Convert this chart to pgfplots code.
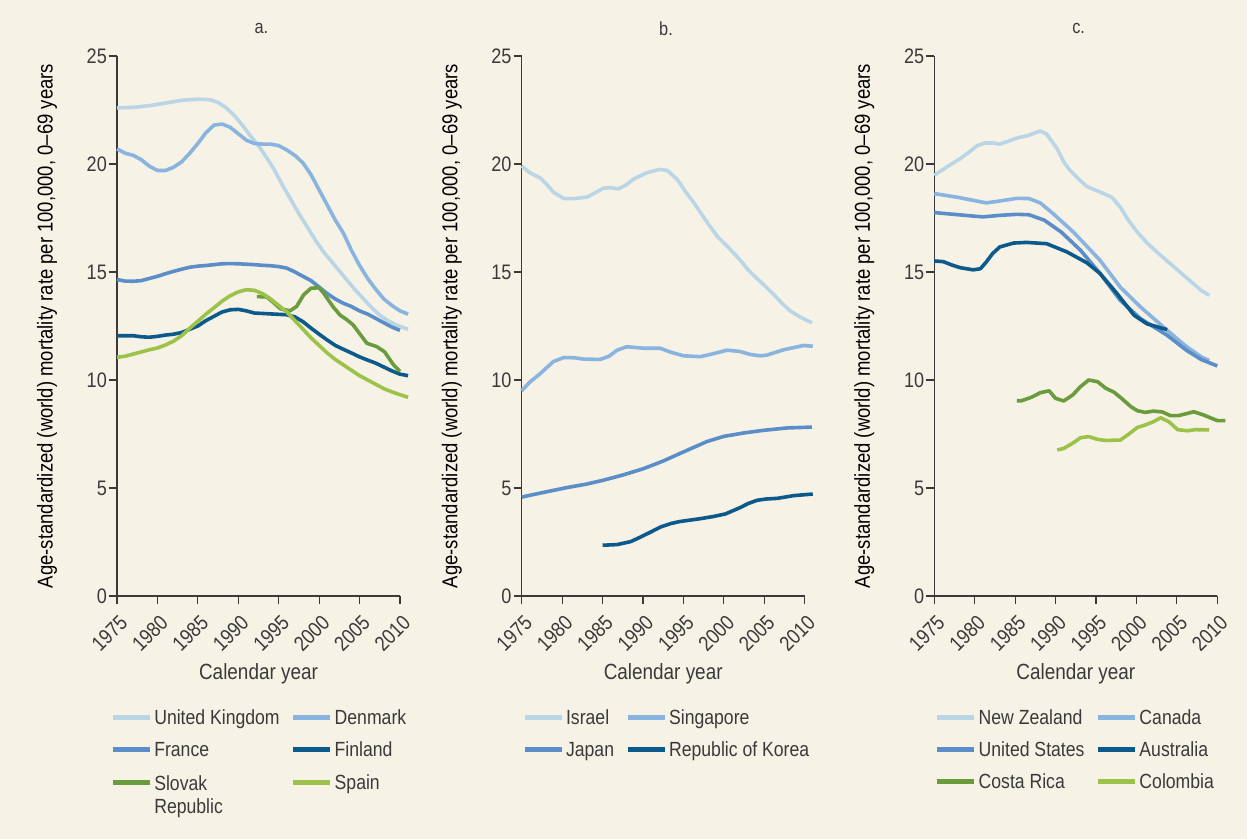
\documentclass[border=0pt]{standalone}
\usepackage{fontspec}
\setmainfont{Liberation Sans}[FakeStretch=0.86]
\usepackage{pgfplots}
\pgfplotsset{compat=1.18}
\definecolor{bgc}{HTML}{F6F2E5}
\definecolor{axg}{HTML}{3A3A3A}
\definecolor{cA}{HTML}{BAD6E6}
\definecolor{cB}{HTML}{8AB4E0}
\definecolor{cC}{HTML}{5B8DC9}
\definecolor{cD}{HTML}{0C5A8C}
\definecolor{cE}{HTML}{6A9B3D}
\definecolor{cF}{HTML}{9DC24A}
\pgfplotsset{
  panel/.style={
    width=283bp, height=540bp, scale only axis, anchor=south west,
    xmin=1975, xmax=2010, ymin=0, ymax=25,
    xtick={1975,1980,...,2010}, ytick={0,5,...,25},
    axis x line*=bottom, axis y line*=left,
    axis line style={-, draw=axg, line width=1.1pt},
    tick align=outside, major tick length=8bp,
    tick style={axg, line width=1.1pt},
    clip=false,
    /pgf/number format/assume math mode=true,
    /pgf/number format/1000 sep={},
    tick label style={font=\fontsize{21bp}{23bp}\selectfont, text=axg},
    xticklabel style={rotate=45, anchor=north east, inner sep=1bp, xshift=-5bp, yshift=-7bp},
    yticklabel style={inner sep=2bp},
    xlabel={Calendar year},
    xlabel style={at={(axis description cs:0.5,-0.145)}, anchor=center, font=\fontsize{22bp}{24bp}\selectfont, text=axg},
    ylabel={Age-standardized (world) mortality rate per 100,000, 0--69 years},
    ylabel style={at={(axis description cs:-0.247,0.5)}, anchor=center, font=\fontsize{21.5bp}{24bp}\selectfont, text=black},
    title style={at={(axis description cs:0.51,1.039)}, anchor=center, yshift=0pt, font=\fontsize{19bp}{21bp}\selectfont, text=axg},
    every axis plot/.append style={line width=3.6bp, line join=round},
    legend image code/.code={\draw[#1, line width=5bp] (0bp,0bp) -- (37bp,0bp);},
    legend cell align=left,
    legend columns=2,
    legend style={draw=none, fill=none, anchor=north west, font=\fontsize{20.5bp}{24bp}\selectfont, text=axg, row sep=11.5bp,
      /tikz/every even column/.append style={column sep=9bp}},
  }
}
\begin{document}
\begin{tikzpicture}
\fill[bgc] (0,0) rectangle (1247bp,839bp);
\useasboundingbox (0,0) rectangle (1247bp,839bp);
% ---------- panel a
\begin{axis}[panel, at={(117bp,243bp)}, title={a.},
  legend style={at={(axis description cs:-0.035,-0.203)}}]
\addplot[cA] coordinates {(1975,22.6)(1977,22.62)(1979,22.7)(1981,22.82)(1983,22.95)(1985,23.0)(1986.5,22.98)(1987.5,22.85)(1988.5,22.6)(1989.5,22.25)(1990.5,21.8)(1991.5,21.3)(1992.5,20.85)(1993.5,20.3)(1994.5,19.7)(1995.5,19.0)(1996.5,18.35)(1997.5,17.7)(1998.5,17.1)(1999.5,16.5)(2000.5,15.95)(2001.5,15.5)(2002.5,15.05)(2003.5,14.6)(2004.5,14.15)(2005.5,13.75)(2006.5,13.35)(2007.5,13.0)(2008.5,12.75)(2009.5,12.55)(2011,12.35)};
\addlegendentry{United Kingdom}
\addplot[cB] coordinates {(1975,20.7)(1976,20.5)(1977,20.4)(1978,20.2)(1979,19.9)(1980,19.7)(1981,19.7)(1982,19.85)(1983,20.1)(1984,20.5)(1985,20.95)(1986,21.45)(1987,21.8)(1988,21.85)(1989,21.7)(1990,21.4)(1991,21.1)(1992,20.95)(1993,20.92)(1994,20.92)(1995,20.85)(1996,20.65)(1997,20.4)(1998,20.05)(1999,19.5)(2000,18.8)(2001,18.1)(2002,17.4)(2003,16.8)(2004,16.0)(2005,15.3)(2006,14.7)(2007,14.2)(2008,13.75)(2009,13.45)(2010,13.2)(2011,13.05)};
\addlegendentry{Denmark}
\addplot[cC] coordinates {(1975,14.65)(1976,14.58)(1977,14.57)(1978,14.6)(1979,14.7)(1980,14.8)(1981,14.92)(1982,15.03)(1983,15.13)(1984,15.22)(1985,15.27)(1986,15.3)(1987,15.34)(1988,15.38)(1989,15.39)(1990,15.38)(1991,15.36)(1992,15.34)(1993,15.31)(1994,15.29)(1995,15.25)(1996,15.18)(1997,15.0)(1998,14.8)(1999,14.6)(2000,14.3)(2001,14.0)(2002,13.75)(2003,13.55)(2004,13.4)(2005,13.2)(2006,13.05)(2007,12.85)(2008,12.65)(2009,12.45)(2010,12.3)};
\addlegendentry{France}
\addplot[cD] coordinates {(1975,12.05)(1977,12.05)(1978,12.0)(1979,11.98)(1980,12.02)(1981,12.08)(1982,12.12)(1983,12.2)(1984,12.35)(1985,12.5)(1986,12.75)(1987,12.95)(1988,13.15)(1989,13.25)(1990,13.27)(1991,13.2)(1992,13.1)(1993,13.08)(1994,13.06)(1995,13.04)(1996,13.02)(1997,12.92)(1998,12.7)(1999,12.4)(2000,12.12)(2001,11.85)(2002,11.6)(2003,11.42)(2004,11.25)(2005,11.07)(2006,10.92)(2007,10.78)(2008,10.6)(2009,10.42)(2010,10.27)(2011,10.2)};
\addlegendentry{Finland}
\addplot[cE] coordinates {(1992.3,13.86)(1993.5,13.85)(1994.3,13.6)(1995.2,13.3)(1996.4,13.2)(1997.2,13.4)(1998.1,13.95)(1999,14.25)(2000,14.27)(2000.6,14.0)(2001.7,13.4)(2002.6,13.0)(2003.4,12.8)(2004.2,12.55)(2005.1,12.1)(2005.9,11.7)(2007.1,11.55)(2008.1,11.3)(2009.2,10.7)(2010,10.4)};
\addlegendentry{\begin{tabular}[t]{@{}l@{}}Slovak\\[-1pt]Republic\end{tabular}}
\addplot[cF] coordinates {(1975,11.05)(1976,11.1)(1977,11.2)(1978,11.3)(1979,11.4)(1980,11.48)(1981,11.62)(1982,11.8)(1983,12.05)(1984,12.4)(1985,12.72)(1986,13.05)(1987,13.35)(1988,13.65)(1989,13.9)(1990,14.08)(1991,14.18)(1992,14.15)(1993,14.0)(1994,13.75)(1995,13.45)(1996,13.15)(1997,12.75)(1998,12.35)(1999,11.95)(2000,11.6)(2001,11.25)(2002,10.95)(2003,10.7)(2004,10.45)(2005,10.2)(2006,10.0)(2007,9.8)(2008,9.6)(2009,9.45)(2010,9.32)(2011,9.2)};
\addlegendentry{Spain}
\end{axis}
% ---------- panel b
\begin{axis}[panel, at={(521.7bp,243bp)}, title={b.},
  legend style={at={(axis description cs:-0.01,-0.203)}}]
\addplot[cA] coordinates {(1975,19.9)(1976,19.6)(1977.3,19.35)(1978,19.1)(1978.9,18.7)(1980.2,18.4)(1981.5,18.4)(1983.1,18.47)(1984,18.65)(1985.1,18.88)(1986,18.9)(1987,18.85)(1988,19.05)(1988.8,19.3)(1990.5,19.6)(1992.1,19.75)(1993,19.7)(1994.2,19.3)(1995.2,18.75)(1996.3,18.2)(1997.3,17.65)(1998.3,17.1)(1999.3,16.6)(2000.4,16.2)(2002,15.56)(2003,15.1)(2004.1,14.7)(2005.1,14.35)(2006.2,13.95)(2007.2,13.55)(2008.2,13.2)(2009.5,12.9)(2010.9,12.65)};
\addlegendentry{Israel}
\addplot[cB] coordinates {(1975,9.5)(1976,9.9)(1977.3,10.3)(1978.9,10.85)(1980.2,11.04)(1981.5,11.03)(1982.6,10.97)(1984.7,10.95)(1985.8,11.1)(1986.8,11.38)(1988,11.54)(1990.1,11.47)(1992.1,11.47)(1993.5,11.28)(1995,11.12)(1997.1,11.08)(1998.5,11.2)(2000.4,11.38)(2002,11.32)(2003.3,11.18)(2004.5,11.12)(2005.3,11.15)(2007.4,11.4)(2009.9,11.6)(2011,11.56)};
\addlegendentry{Singapore}
\addplot[cC] coordinates {(1975,4.58)(1978,4.82)(1980.6,5.02)(1983,5.18)(1985.1,5.36)(1987.5,5.6)(1990.1,5.9)(1992.5,6.25)(1995,6.67)(1997.9,7.15)(2000,7.39)(2002.5,7.55)(2004.9,7.67)(2007.8,7.78)(2010.9,7.82)};
\addlegendentry{Japan}
\addplot[cD] coordinates {(1985,2.35)(1986.8,2.38)(1988.5,2.52)(1989.7,2.73)(1991,2.97)(1992.2,3.2)(1993.5,3.36)(1994.6,3.45)(1997.1,3.58)(1998.7,3.68)(2000.2,3.8)(2002,4.09)(2003,4.28)(2004.1,4.43)(2005.2,4.49)(2006.6,4.52)(2008.7,4.65)(2011,4.72)};
\addlegendentry{Republic of Korea}
\end{axis}
% ---------- panel c
\begin{axis}[panel, at={(934.3bp,243bp)}, title={c.},
  legend style={at={(axis description cs:-0.01,-0.203)}}]
\addplot[cA] coordinates {(1975,19.48)(1976.5,19.85)(1978.2,20.25)(1979.3,20.55)(1980.3,20.85)(1981.3,20.97)(1982.3,20.97)(1983.1,20.92)(1984.1,21.05)(1985.2,21.2)(1986.6,21.32)(1988.1,21.53)(1988.9,21.38)(1990.2,20.7)(1991,20.1)(1991.8,19.7)(1993,19.25)(1993.9,18.95)(1995.5,18.7)(1997,18.45)(1998,18.0)(1999,17.4)(2000.1,16.85)(2001.3,16.35)(2002.6,15.9)(2004.6,15.25)(2006.7,14.57)(2008,14.15)(2009,13.92)};
\addlegendentry{New Zealand}
\addplot[cB] coordinates {(1975,18.63)(1978,18.45)(1981.4,18.2)(1983,18.28)(1985.2,18.41)(1986.7,18.4)(1988.1,18.2)(1989.7,17.7)(1992.2,16.85)(1995.5,15.54)(1998,14.3)(2000.5,13.38)(2003.8,12.3)(2006,11.6)(2008,11.07)(2009,10.9)};
\addlegendentry{Canada}
\addplot[cC] coordinates {(1975,17.75)(1978,17.65)(1981,17.55)(1983,17.62)(1985.2,17.67)(1986.7,17.65)(1988.6,17.4)(1990.7,16.85)(1993.1,16.0)(1995.5,14.93)(1998,13.69)(2000.5,12.84)(2003.8,12.07)(2006.2,11.37)(2008,10.95)(2010,10.65)};
\addlegendentry{United States}
\addplot[cD] coordinates {(1975,15.51)(1976.1,15.48)(1977.2,15.32)(1978.2,15.2)(1979.8,15.1)(1980.7,15.15)(1981.4,15.45)(1982.2,15.85)(1983.1,16.16)(1984.8,16.34)(1986.4,16.37)(1988.9,16.31)(1991.4,15.93)(1993.9,15.42)(1995.5,14.93)(1997.6,14.0)(1999.7,13.0)(2001.3,12.6)(2003.8,12.33)};
\addlegendentry{Australia}
\addplot[cE] coordinates {(1985.2,9.04)(1985.8,9.04)(1987,9.2)(1988.1,9.41)(1989.2,9.5)(1990,9.15)(1991,9.03)(1992.1,9.3)(1993.1,9.7)(1994.1,10.0)(1995.2,9.92)(1996.2,9.62)(1997.2,9.44)(1998,9.2)(1999.3,8.77)(2000.1,8.58)(2001.1,8.5)(2002.1,8.56)(2003.2,8.52)(2004.2,8.35)(2005.2,8.35)(2007.1,8.53)(2008.3,8.38)(2010,8.12)(2011,8.12)};
\addlegendentry{Costa Rica}
\addplot[cF] coordinates {(1990.2,6.76)(1991,6.83)(1992.1,7.07)(1993.1,7.33)(1994.1,7.38)(1995.2,7.25)(1996.2,7.2)(1998,7.22)(1999,7.48)(2000.1,7.8)(2001.1,7.92)(2002.1,8.07)(2003,8.25)(2004,8.07)(2005.1,7.7)(2006.3,7.65)(2007.3,7.7)(2009,7.69)};
\addlegendentry{Colombia}
\end{axis}
\end{tikzpicture}
\end{document}
